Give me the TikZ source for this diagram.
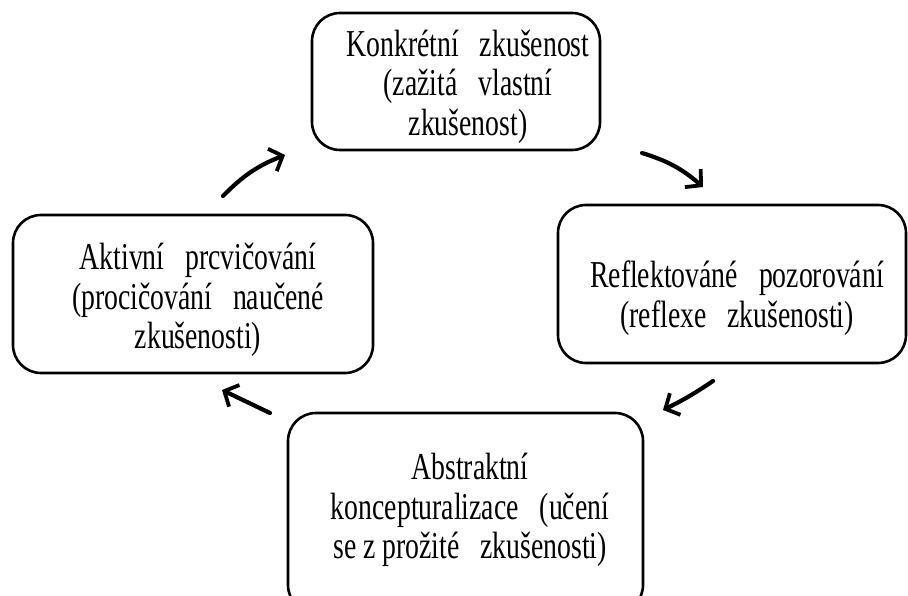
\documentclass[tikz,border=0pt]{standalone}
\usepackage{fontspec}
\setmainfont[FakeStretch=0.73]{Liberation Serif}
\usetikzlibrary{arrows.meta}
\newcommand\gp{\hspace{0.55em}}
\begin{document}
\begin{tikzpicture}[x=1pt,y=-1pt,
  box/.style={draw, line width=2.6pt, rounded corners=28pt, inner sep=0pt},
  lbl/.style={align=center, font=\fontsize{38}{39.5}\selectfont, inner sep=0pt},
  cyc/.style={line width=4.2pt, line cap=round, -{Straight Barb[length=11pt,width=24pt,line width=3.8pt]}}]
\clip (0,0) rectangle (908,596);
\fill[white] (0,0) rectangle (908,596);
% boxes
\node[box, minimum width=288pt, minimum height=137pt] (top) at (456,81.5) {};
\node[box, minimum width=360pt, minimum height=158pt] (left) at (193,294) {};
\node[box, minimum width=348pt, minimum height=158pt] (right) at (732,284) {};
\node[box, minimum width=355pt, minimum height=200pt] (bottom) at (465.5,513) {};
% labels
\node[lbl] (ttop) at (468,86.5) {Konkrétní\gp zkušenost\\(zažitá\gp vlastní\\zkušenost)};
\node[lbl] (tleft) at (198,300) {Aktivní\gp prcvičování\\(procičování\gp naučené\\zkušenosti)};
\node[lbl] (tright) at (737,298) {Reflektováné\gp pozorování\\(reflexe\gp zkušenosti)};
\node[lbl] (tbottom) at (470,510) {Abstraktní\\koncepturalizace\gp (učení\\se z prožité\gp zkušenosti)};
% arrows
\coordinate (a1s) at (223,196); \coordinate (a1e) at (285,155);
\coordinate (a2s) at (642,153); \coordinate (a2e) at (703,187);
\coordinate (a3s) at (713,381); \coordinate (a3e) at (663,410);
\coordinate (a4s) at (270,413); \coordinate (a4e) at (222,390);
\draw[cyc] (a1s) to[bend left=12] (a1e);
\draw[cyc] (a2s) to[bend left=12] (a2e);
\draw[cyc] (a3s) to[bend left=4] (a3e);
\draw[cyc] (a4s) to (a4e);
\end{tikzpicture}
\end{document}
